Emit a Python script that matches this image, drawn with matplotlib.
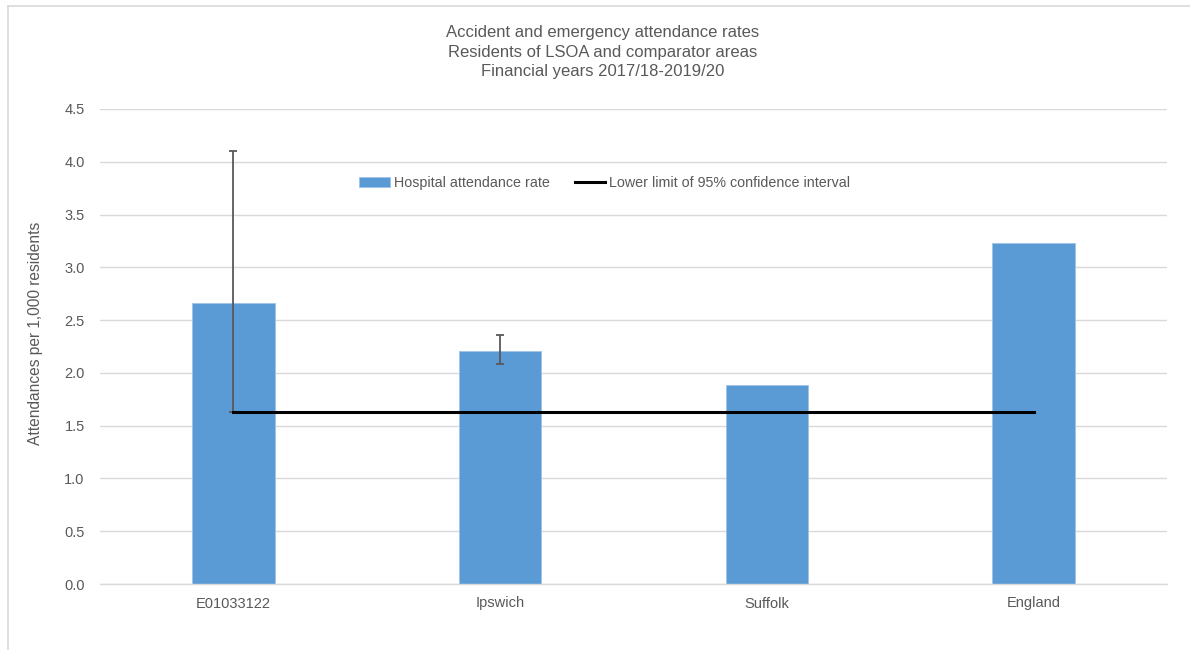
import matplotlib
matplotlib.use("Agg")
import matplotlib.pyplot as plt
import numpy as np

categories = ["E01033122", "Ipswich", "Suffolk", "England"]
rates = [2.66, 2.21, 1.89, 3.23]
ci_lower = [1.63, 2.08, None, None]
ci_upper = [4.10, 2.36, None, None]
lower_limit = [1.63, 1.63, 1.63, 1.63]
title_lines = ["Accident and emergency attendance rates",
               "Residents of LSOA and comparator areas",
               "Financial years 2017/18-2019/20"]

plt.rcParams['font.family'] = ['Liberation Sans', 'DejaVu Sans']
text_col = "#595959"
grid_col = "#d9d9d9"

fig = plt.figure(figsize=(11.9, 6.5), dpi=100)
ax = fig.add_axes([100/1190, 1-584/650, 1067/1190, 475/650])

x = np.arange(len(categories))
ax.bar(x, rates, width=0.31, color="#5B9BD5", edgecolor="#9DC3E6",
       linewidth=0.6, zorder=2, label="Hospital attendance rate")

for i in range(len(categories)):
    if ci_lower[i] is not None:
        ax.errorbar(x[i], rates[i],
                    yerr=[[rates[i]-ci_lower[i]], [ci_upper[i]-rates[i]]],
                    fmt='none', ecolor="#595959", elinewidth=1.3,
                    capsize=3, capthick=1.3, zorder=3)

ax.plot(x, lower_limit, color="black", linewidth=2.2, zorder=4,
        label="Lower limit of 95% confidence interval")

ax.set_xlim(-0.5, 3.5)
ax.set_ylim(0, 4.5)
ax.set_yticks(np.arange(0, 4.51, 0.5))
ax.set_yticklabels([f"{v:.1f}" for v in np.arange(0, 4.51, 0.5)])
ax.set_xticks(x)
ax.set_xticklabels(categories)
ax.tick_params(axis='both', length=0, labelsize=10.5, colors=text_col)
ax.tick_params(axis='y', pad=11)
ax.tick_params(axis='x', pad=9)
ax.yaxis.grid(True, color=grid_col, linewidth=1.0, zorder=0)
ax.set_axisbelow(True)
for s in ["top", "right", "left"]:
    ax.spines[s].set_visible(False)
ax.spines["bottom"].set_color(grid_col)
ax.spines["bottom"].set_linewidth(1.0)

fig.text(35.5/1190, 1-333/650, "Attendances per 1,000 residents", rotation=90,
         ha='center', va='center', fontsize=11.2, color=text_col)

handles, labels = ax.get_legend_handles_labels()
leg = ax.legend(handles[::-1], labels[::-1], loc='center', bbox_to_anchor=(0.473, 0.844),
                ncol=2, frameon=False, fontsize=10.3, handlelength=2.15,
                handletextpad=0.25, columnspacing=1.75)
for t in leg.get_texts():
    t.set_color(text_col)

for i, line in enumerate(title_lines):
    fig.text(603/1190, 1 - (37 + 19.5*i)/650, line, ha='center', va='baseline',
             fontsize=12, color=text_col)

# outer frame (top & left visible)
fig.add_artist(plt.Line2D([8/1190, 1], [1-6/650, 1-6/650], color=grid_col, linewidth=1.2,
                          transform=fig.transFigure))
fig.add_artist(plt.Line2D([8/1190, 8/1190], [0, 1-6/650], color=grid_col, linewidth=1.2,
                          transform=fig.transFigure))

fig.savefig("out.png", dpi=100, facecolor="white")
